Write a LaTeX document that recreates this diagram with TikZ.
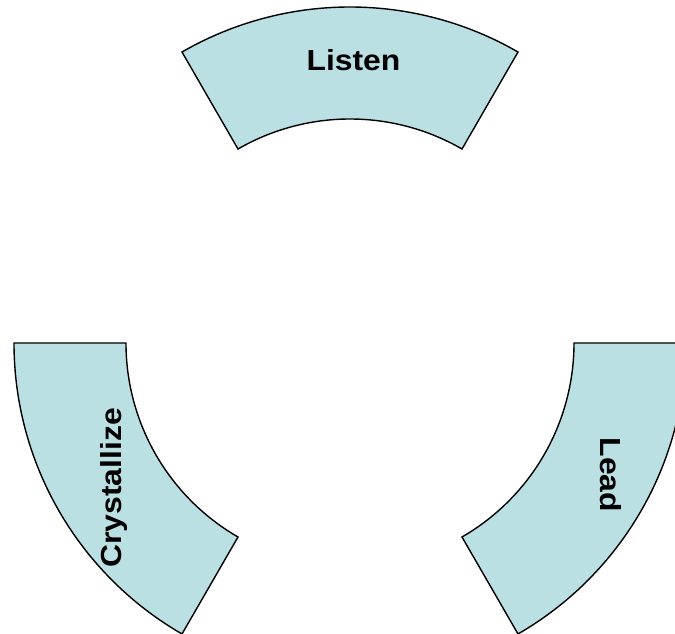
\documentclass[tikz,border=0pt]{standalone}
\usepackage{fontspec}
\setmainfont{Liberation Sans}
\definecolor{sectorfill}{HTML}{BBE0E3}
\tikzset{
  sector/.style={fill=sectorfill, draw=black, line width=1.4pt, line join=miter},
  label/.style={inner sep=0pt, font=\fontsize{29}{35}\selectfont\bfseries}
}
\newcommand{\wtxt}[1]{\scalebox{1.1}[1]{#1}}
\begin{document}
\begin{tikzpicture}[x=1pt,y=1pt]
\useasboundingbox (-350,-291) rectangle (325,343);
% top sector
\draw[sector] (60:336) arc[start angle=60, end angle=120, radius=336]
  -- (120:224) arc[start angle=120, end angle=60, radius=224] -- cycle;
% left sector
\draw[sector] (180:336) arc[start angle=180, end angle=240, radius=336]
  -- (240:224) arc[start angle=240, end angle=180, radius=224] -- cycle;
% right sector
\draw[sector] (300:336) arc[start angle=300, end angle=360, radius=336]
  -- (360:224) arc[start angle=360, end angle=300, radius=224] -- cycle;
\node[label, anchor=base] (listen) at (3.5,272) {\wtxt{Listen}};
\node[label, anchor=base, rotate=90] (crys) at (-228,-145) {\wtxt{Crystallize}};
\node[label, anchor=base, rotate=-90] (lead) at (250,-132) {\wtxt{Lead}};
\end{tikzpicture}
\end{document}
